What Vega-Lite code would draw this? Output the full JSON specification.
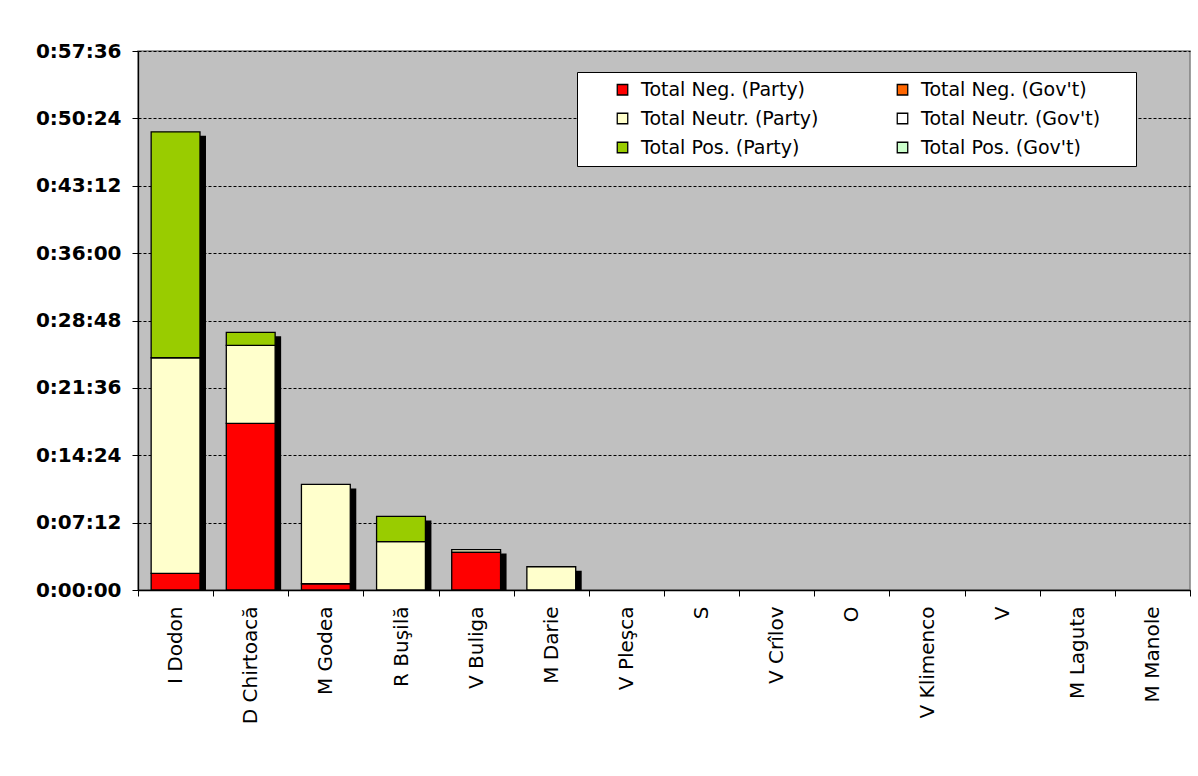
{
  "$schema": "https://vega.github.io/schema/vega-lite/v6.json",
  "width": 1052,
  "height": 539,
  "autosize": "none",
  "padding": {"left": 138, "top": 51, "right": 8, "bottom": 186},
  "background": "white",
  "config": {
    "font": "DejaVu Sans",
    "view": {"fill": "#C0C0C0", "stroke": "#808080", "strokeWidth": 1.5}
  },
  "data": {
    "values": [
      {"candidate": "I Dodon", "series": "Total Neg. (Party)", "ord": 1, "seconds": 107},
      {"candidate": "I Dodon", "series": "Total Neutr. (Party)", "ord": 2, "seconds": 1382},
      {"candidate": "I Dodon", "series": "Total Pos. (Party)", "ord": 3, "seconds": 1449},
      {"candidate": "D Chirtoacă", "series": "Total Neg. (Party)", "ord": 1, "seconds": 1068},
      {"candidate": "D Chirtoacă", "series": "Total Neutr. (Party)", "ord": 2, "seconds": 500},
      {"candidate": "D Chirtoacă", "series": "Total Pos. (Party)", "ord": 3, "seconds": 84},
      {"candidate": "M Godea", "series": "Total Neg. (Party)", "ord": 1, "seconds": 40},
      {"candidate": "M Godea", "series": "Total Neutr. (Party)", "ord": 2, "seconds": 637},
      {"candidate": "R Buşilă", "series": "Total Neutr. (Party)", "ord": 2, "seconds": 310},
      {"candidate": "R Buşilă", "series": "Total Pos. (Party)", "ord": 3, "seconds": 162},
      {"candidate": "V Buliga", "series": "Total Neg. (Party)", "ord": 1, "seconds": 242},
      {"candidate": "V Buliga", "series": "Total Neutr. (Party)", "ord": 2, "seconds": 17},
      {"candidate": "M Darie", "series": "Total Neutr. (Party)", "ord": 2, "seconds": 149}
    ]
  },
  "encoding": {
    "x": {
      "field": "candidate",
      "type": "nominal",
      "sort": null,
      "scale": {
        "domain": ["I Dodon", "D Chirtoacă", "M Godea", "R Buşilă", "V Buliga", "M Darie", "V Pleşca", "S", "V Crîlov", "O", "V Klimenco", "V", "M Laguta", "M Manole"],
        "paddingInner": 0,
        "paddingOuter": 0
      },
      "axis": {
        "title": null,
        "labelAngle": -90,
        "labelFontSize": 20,
        "labelColor": "black",
        "labelPadding": 10,
        "tickBand": "extent",
        "tickSize": 6,
        "tickColor": "black",
        "domainColor": "black",
        "domainWidth": 1.3,
        "labelLimit": 300,
        "grid": false
      }
    }
  },
  "layer": [
    {
      "mark": {"type": "bar", "color": "black", "width": {"band": 0.65}, "xOffset": 6, "yOffset": 4, "clip": true},
      "encoding": {
        "y": {
          "aggregate": "sum",
          "field": "seconds",
          "type": "quantitative",
          "scale": {"domain": [0, 3456], "nice": false},
          "axis": {
            "title": null,
            "values": [0, 432, 864, 1296, 1728, 2160, 2592, 3024, 3456],
            "labelExpr": "utcFormat(datum.value*1000, '%-H:%M:%S')",
            "labelFontSize": 20,
            "labelFontWeight": "bold",
            "labelColor": "black",
            "labelPadding": 11,
            "tickSize": 6,
            "tickColor": "black",
            "domainColor": "black",
            "domainWidth": 1.3,
            "grid": true,
            "gridColor": "black",
            "gridDash": [3, 2],
            "gridWidth": 1
          }
        }
      }
    },
    {
      "mark": {"type": "bar", "stroke": "black", "strokeWidth": 1.3, "width": {"band": 0.65}},
      "encoding": {
        "y": {
          "field": "seconds",
          "type": "quantitative",
          "stack": "zero",
          "scale": {"domain": [0, 3456], "nice": false},
          "axis": {
            "title": null,
            "values": [0, 432, 864, 1296, 1728, 2160, 2592, 3024, 3456],
            "labelExpr": "utcFormat(datum.value*1000, '%-H:%M:%S')",
            "labelFontSize": 20,
            "labelFontWeight": "bold",
            "labelColor": "black",
            "labelPadding": 11,
            "tickSize": 6,
            "tickColor": "black",
            "domainColor": "black",
            "domainWidth": 1.3,
            "grid": true,
            "gridColor": "black",
            "gridDash": [3, 2],
            "gridWidth": 1
          }
        },
        "order": {"field": "ord", "type": "quantitative"},
        "color": {
          "field": "series",
          "type": "nominal",
          "scale": {
            "domain": ["Total Neg. (Party)", "Total Neutr. (Party)", "Total Pos. (Party)", "Total Neg. (Gov't)", "Total Neutr. (Gov't)", "Total Pos. (Gov't)"],
            "range": ["#FF0000", "#FFFFCC", "#99CC00", "#FF6600", "#FFFFFF", "#CCFFCC"]
          },
          "legend": {
            "title": null,
            "orient": "none",
            "legendX": 439,
            "legendY": 21,
            "columns": 2,
            "fillColor": "white",
            "strokeColor": "black",
            "padding": 8,
            "symbolType": "square",
            "symbolSize": 110,
            "symbolStrokeColor": "black",
            "symbolStrokeWidth": 1.3,
            "symbolOpacity": 1,
            "symbolOffset": 28,
            "labelFontSize": 19,
            "labelColor": "black",
            "labelOffset": 9,
            "labelLimit": 400,
            "columnPadding": 46,
            "rowPadding": 9,
            "labelExpr": "indexof(datum.label, 'Gov') >= 0 ? datum.label + '\u2800\u2800' : datum.label"
          }
        }
      }
    }
  ]
}
